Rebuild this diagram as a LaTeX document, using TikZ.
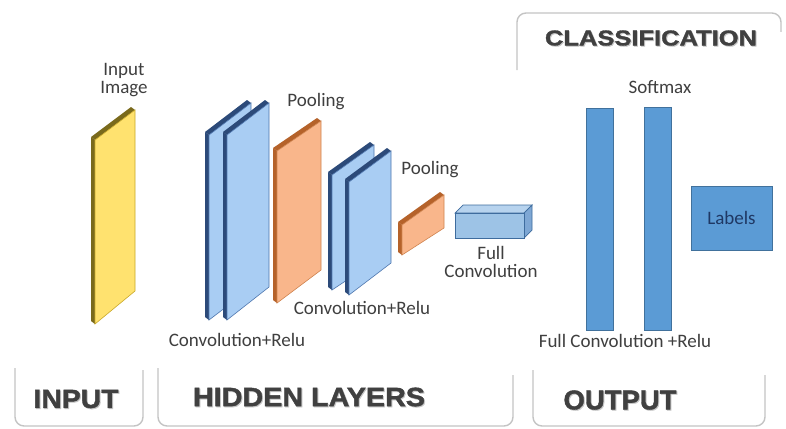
\documentclass[tikz,border=0pt]{standalone}
\usepackage{fontspec}
\usepackage{graphicx}
\setmainfont{Carlito}
\newfontface\headfont[FakeBold=1.4]{Liberation Sans Bold}

\definecolor{inyel}{HTML}{FFE26F}
\definecolor{inyeldk}{HTML}{7A6A1C}
\definecolor{inyeledge}{HTML}{C9A92A}
\definecolor{convbl}{HTML}{A9CDF3}
\definecolor{convdk}{HTML}{2C4A79}
\definecolor{convedge}{HTML}{4E76AE}
\definecolor{poolor}{HTML}{F9B68B}
\definecolor{pooldk}{HTML}{B5622A}
\definecolor{pooledge}{HTML}{D0844F}
\definecolor{boxfront}{HTML}{9DC3E6}
\definecolor{boxtop}{HTML}{B7D3EE}
\definecolor{boxside}{HTML}{7EA7D4}
\definecolor{boxedge}{HTML}{3E6C9E}
\definecolor{barblue}{HTML}{5B9BD5}
\definecolor{baredge}{HTML}{41719C}
\definecolor{labelgray}{HTML}{3F3F3F}
\definecolor{labtxt}{HTML}{1F3864}
\definecolor{headgray}{HTML}{404040}
\definecolor{framegray}{HTML}{C4C4C4}

% thin slab seen in perspective: left side, top edge and front face
% #1 front-left x, #2 top-left y, #3 right x, #4 top-right y,
% #5 bottom-left y, #6 bottom-right y, #7 face, #8 depth, #9 face edge
\newcommand\cnnslab[9]{%
  \fill[#8] ({#1-4},{#2-3}) -- (#1,#2) -- (#1,#5) -- ({#1-4},{#5-3}) -- cycle;
  \fill[#8] ({#1-4},{#2-3}) -- ({#3-4},{#4-3}) -- (#3,#4) -- (#1,#2) -- cycle;
  \filldraw[fill=#7, draw=#9, line width=0.6pt]
    (#1,#2) -- (#3,#4) -- (#3,#6) -- (#1,#5) -- cycle;
}

\begin{document}
\begin{tikzpicture}[x=1pt,y=-1pt,
  lbl/.style={inner sep=0pt, text=labelgray, font=\fontsize{19}{17.5}\selectfont, align=center},
  head/.style={inner sep=0pt, text=headgray},
  headshadow/.style={inner sep=0pt, text=black!22},
  frame/.style={draw=framegray, line width=1.4pt, rounded corners=9pt},
  bar/.style={draw=baredge, fill=barblue, line width=0.6pt, inner sep=0pt}]

\useasboundingbox (0,0) rectangle (786,428);
\fill[white] (0,0) rectangle (786,428);

% section frames
\draw[frame] (15,368) -- (15,426) -- (143,426) -- (143,370);
\draw[frame] (158,368) -- (158,426) -- (513,426) -- (513,375);
\draw[frame] (533,370) -- (533,426) -- (765,426) -- (765,375);
\draw[frame] (517,70) -- (517,13) -- (781,13) -- (781,32);

% input image
\cnnslab{95}{140}{135}{110}{324}{291}{inyel}{inyeldk}{inyeledge}
% first convolution pair
\cnnslab{209}{135}{251}{103}{320}{288}{convbl}{convdk}{convedge}
\cnnslab{227}{135}{269}{103}{320}{287}{convbl}{convdk}{convedge}
% first pooling
\cnnslab{277}{151}{321}{121}{303}{270}{poolor}{pooldk}{pooledge}
% second convolution pair
\cnnslab{332}{175}{374}{145}{290}{262}{convbl}{convdk}{convedge}
\cnnslab{349}{182}{391}{151}{295}{263}{convbl}{convdk}{convedge}
% second pooling
\cnnslab{402}{225}{444}{195}{255}{228}{poolor}{pooldk}{pooledge}

% fully connected block
\filldraw[fill=boxtop, draw=boxedge, line width=0.7pt]
  (455,213) -- (463,205) -- (532,205) -- (524,213) -- cycle;
\filldraw[fill=boxside, draw=boxedge, line width=0.7pt]
  (524,213) -- (532,205) -- (532,230) -- (524,238) -- cycle;
\filldraw[fill=boxfront, draw=boxedge, line width=0.7pt] (455,213) rectangle (524,238);

% classification layers
\node[bar, minimum width=27pt, minimum height=222pt] (fc1) at (599.5,219) {};
\node[bar, minimum width=27pt, minimum height=223pt] (fc2) at (657.5,218.5) {};
\node[bar, minimum width=81pt, minimum height=64pt, text=labtxt,
      font=\fontsize{19}{19}\selectfont] (labels) at (731.5,218) {Labels};

% layer labels
\node[lbl] (inimg) at (124,80) {Input\\Image};
\node[lbl] (pool1) at (316,102) {Pooling};
\node[lbl] (pool2) at (430,170) {Pooling};
\node[lbl] (fullconv) at (491,262) {Full\\Convolution};
\node[lbl] (convrelu2) at (362,308) {Convolution+Relu};
\node[lbl] (convrelu1) at (237,340) {Convolution+Relu};
\node[lbl] (softmax) at (660,87) {Softmax};
\node[lbl] (fcrelu) at (625,341) {Full Convolution +Relu};

% section headings
\node[headshadow] at (77,400) {\resizebox{85pt}{18pt}{\headfont INPUT}};
\node[head] (hin) at (76,399) {\resizebox{85pt}{18pt}{\headfont INPUT}};
\node[headshadow] at (310,398) {\resizebox{232pt}{18.5pt}{\headfont HIDDEN LAYERS}};
\node[head] (hhid) at (309,397) {\resizebox{232pt}{18.5pt}{\headfont HIDDEN LAYERS}};
\node[headshadow] at (621,401) {\resizebox{113pt}{19pt}{\headfont OUTPUT}};
\node[head] (hout) at (620,400) {\resizebox{113pt}{19pt}{\headfont OUTPUT}};
\node[headshadow] at (652,39) {\resizebox{212pt}{15pt}{\headfont CLASSIFICATION}};
\node[head] (hcls) at (651,38) {\resizebox{212pt}{15pt}{\headfont CLASSIFICATION}};
\end{tikzpicture}
\end{document}
